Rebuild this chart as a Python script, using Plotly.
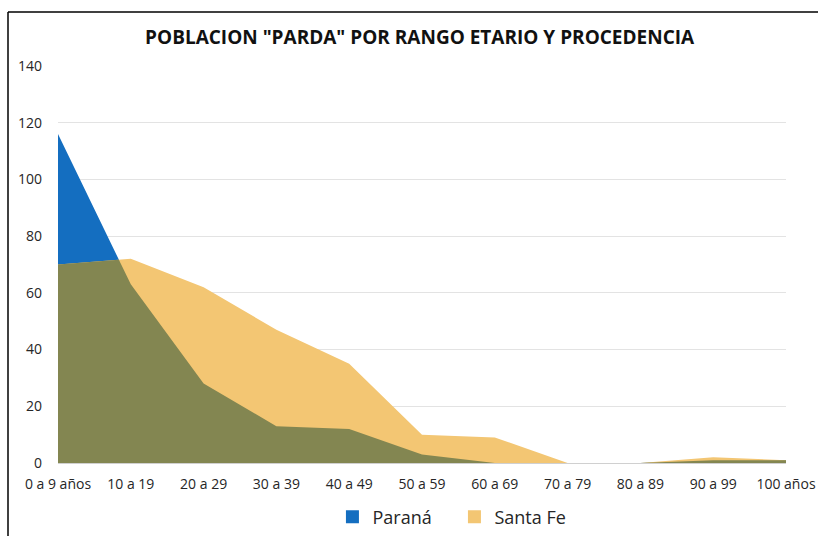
import plotly.graph_objects as go

categories = ["0 a 9 años", "10 a 19", "20 a 29", "30 a 39", "40 a 49", "50 a 59",
              "60 a 69", "70 a 79", "80 a 89", "90 a 99", "100 años"]
parana = [116, 63, 28, 13, 12, 3, 0, 0, 0, 1, 1]
santa_fe = [70, 72, 62, 47, 35, 10, 9, 0, 0, 2, 1]
y_ticks = [0, 20, 40, 60, 80, 100, 120, 140]

BLUE = "#146EC0"
YELLOW = "#F3C673"
OLIVE = "#838651"

xs = list(range(len(categories)))

# overlap (minimum of both series), including crossing points between categories
ox, oy = [], []
for i in range(len(xs)):
    ox.append(xs[i]); oy.append(min(parana[i], santa_fe[i]))
    if i < len(xs) - 1:
        d0 = parana[i] - santa_fe[i]
        d1 = parana[i + 1] - santa_fe[i + 1]
        if d0 * d1 < 0:
            t = d0 / (d0 - d1)
            ox.append(xs[i] + t)
            oy.append(parana[i] + t * (parana[i + 1] - parana[i]))

fig = go.Figure()
fig.add_trace(go.Scatter(x=xs, y=parana, name="Paraná", mode="lines", fill="tozeroy",
                         line=dict(width=0, color=BLUE), fillcolor=BLUE, showlegend=False))
fig.add_trace(go.Scatter(x=xs, y=santa_fe, name="Santa Fe", mode="lines", fill="tozeroy",
                         line=dict(width=0, color=YELLOW), fillcolor=YELLOW, showlegend=False))
fig.add_trace(go.Scatter(x=ox, y=oy, mode="lines", fill="tozeroy", showlegend=False,
                         line=dict(width=0, color=OLIVE), fillcolor=OLIVE, hoverinfo="skip"))
# legend swatches
fig.add_trace(go.Scatter(x=[None], y=[None], mode="markers", name="Paraná",
                         marker=dict(symbol="square", size=13, color=BLUE)))
fig.add_trace(go.Scatter(x=[None], y=[None], mode="markers", name="Santa Fe",
                         marker=dict(symbol="square", size=13, color=YELLOW)))

PL, PT, PW, PH = 58, 66, 728, 397

fig.update_layout(
    width=818, height=536,
    margin=dict(l=PL, r=818 - PL - PW, t=PT, b=536 - PT - PH, autoexpand=False),
    paper_bgcolor="white", plot_bgcolor="white",
    font=dict(family="Open Sans", color="#262626", size=14),
    title=dict(text='<b>POBLACION "PARDA" POR RANGO ETARIO Y PROCEDENCIA</b>',
               x=0.513, xanchor="center", y=1 - 37 / 536, yanchor="middle",
               font=dict(size=19, color="#111111", family="Open Sans")),
    xaxis=dict(range=[0, 10], tickvals=xs, ticktext=categories, showgrid=False,
               zeroline=False, showline=True, linecolor="#d0d0d0", ticks="",
               tickfont=dict(size=14), ticklabelstandoff=8, automargin=False,
               fixedrange=True),
    yaxis=dict(range=[0, 140], tickvals=y_ticks, showgrid=True, gridcolor="#e3e3e3",
               gridwidth=1, zeroline=False, showline=False, ticks="",
               tickfont=dict(size=14), ticklabelstandoff=15, automargin=False),
    legend=dict(orientation="h", x=(347 - PL) / PW - 0.02, xanchor="left",
                y=(PT + PH - 517) / PH, yanchor="middle",
                font=dict(size=18), itemwidth=30, entrywidth=77),
    shapes=[
        dict(type="line", xref="paper", yref="paper",
             x0=(8 - PL) / PW, x1=(818 - PL) / PW, y0=(PT + PH - 12) / PH, y1=(PT + PH - 12) / PH,
             line=dict(color="black", width=1.5)),
        dict(type="line", xref="paper", yref="paper",
             x0=(8 - PL) / PW, x1=(8 - PL) / PW, y0=(PT + PH - 12) / PH, y1=(PT + PH - 536) / PH,
             line=dict(color="black", width=1.5)),
    ],
)

fig.write_html("out.html", config={"displayModeBar": False},
               post_script="document.body.style.margin='0';")
